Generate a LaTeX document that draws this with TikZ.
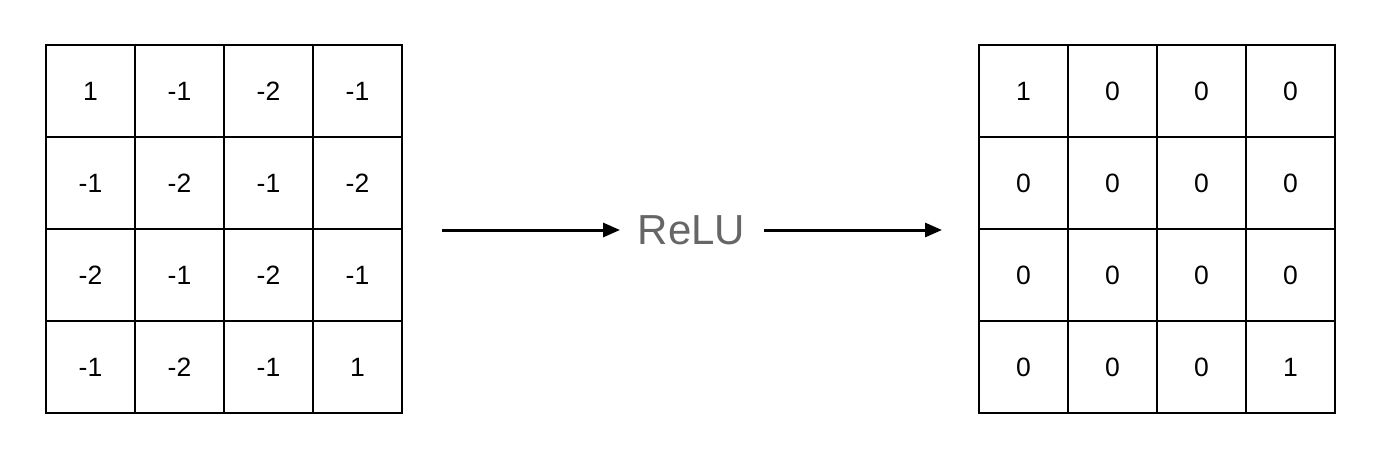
\documentclass[tikz,border=0pt]{standalone}
\usepackage{fontspec}
\setmainfont{Liberation Sans}
\usetikzlibrary{arrows.meta,fit}
\definecolor{relugray}{HTML}{666666}
\tikzset{
  cell/.style={draw=black, line width=1.1pt, minimum width=89pt, minimum height=92pt, inner sep=0pt, anchor=center, font=\fontsize{26.5}{30}\selectfont},
  arr/.style={line width=3pt, -{Triangle[length=17pt,width=14pt]}},
  lbl/.style={text=relugray, font=\fontsize{42}{48}\selectfont, inner sep=0pt}
}
\begin{document}
\begin{tikzpicture}[x=1pt,y=-1pt]
\useasboundingbox (0,0) rectangle (1378,460);
\def\lx{46}\def\rx{979}\def\ty{45}
\foreach \r/\vals in {1/{1,-1,-2,-1},2/{-1,-2,-1,-2},3/{-2,-1,-2,-1},4/{-1,-2,-1,1}}{
  \foreach \v [count=\c] in \vals {
    \node[cell] (l\r\c) at ({\lx+89*(\c-0.5)},{\ty+92*(\r-0.5)}) {\v};
  }
}
\foreach \r/\vals in {1/{1,0,0,0},2/{0,0,0,0},3/{0,0,0,0},4/{0,0,0,1}}{
  \foreach \v [count=\c] in \vals {
    \node[cell] (r\r\c) at ({\rx+89*(\c-0.5)},{\ty+92*(\r-0.5)}) {\v};
  }
}
\node[lbl] (relu) at (691.5,230) {ReLU};
\coordinate (a1s) at (442,230);
\coordinate (a1e) at (620,230);
\coordinate (a2s) at (764,230);
\coordinate (a2e) at (942,230);
\draw[arr] (a1s) -- (a1e);
\draw[arr] (a2s) -- (a2e);
\end{tikzpicture}
\end{document}
